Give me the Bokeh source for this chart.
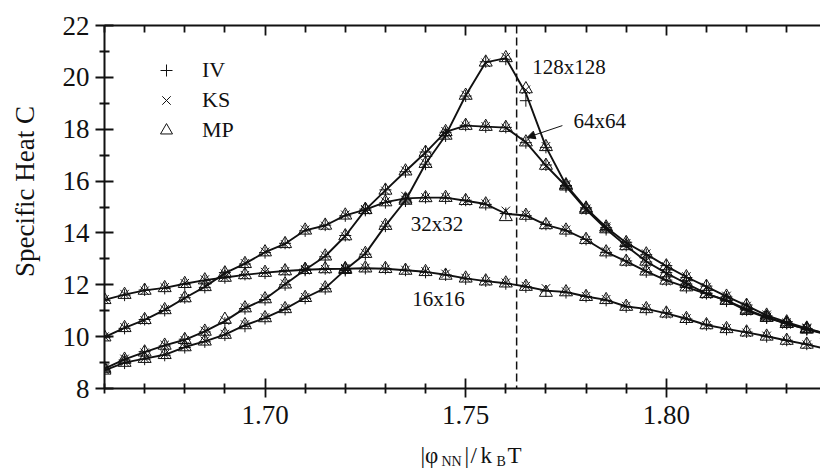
import numpy as np
from bokeh.plotting import figure
from bokeh.layouts import column, row
from bokeh.core.properties import value
from bokeh.models import (Range1d, FixedTicker, NumeralTickFormatter, LinearAxis, Span, Label,
                          Arrow, NormalHead, Legend, LegendItem)
from bokeh.embed import file_html
from bokeh.resources import INLINE

SERIF = "Liberation Serif"
INK = "#111111"

# |phi_NN| / k_B T
coupling = [1.660, 1.665, 1.670, 1.675, 1.680, 1.685, 1.690, 1.695, 1.700, 1.705,
            1.710, 1.715, 1.720, 1.725, 1.730, 1.735, 1.740, 1.745, 1.750, 1.755,
            1.760, 1.765, 1.770, 1.775, 1.780, 1.785, 1.790, 1.795, 1.800, 1.805,
            1.810, 1.815, 1.820, 1.825, 1.830, 1.835, 1.840]

t_critical = 1.7627

lattices = ["16x16", "32x32", "64x64", "128x128"]

# specific heat, 16x16 lattice
c16_iv = [11.40, 11.60, 11.80, 11.86, 12.02, 12.16, 12.27, 12.40, 12.45, 12.55, 12.56, 12.62, 12.60,
          12.63, 12.63, 12.56, 12.48, 12.38, 12.23, 12.15, 12.04, 11.92, 11.76, 11.70, 11.55, 11.40,
          11.15, 11.05, 10.92, 10.68, 10.46, 10.28, 10.18, 10.00, 9.86, 9.71, 9.53]
c16_ks = [11.44, 11.64, 11.77, 11.90, 12.06, 12.20, 12.29, 12.37, 12.49, 12.52, 12.60, 12.60, 12.64,
          12.65, 12.61, 12.57, 12.52, 12.42, 12.26, 12.13, 12.08, 11.95, 11.86, 11.74, 11.56, 11.44,
          11.18, 11.09, 10.88, 10.70, 10.44, 10.32, 10.15, 10.03, 9.84, 9.69, 9.51]
c16_mp = [11.42, 11.62, 11.78, 11.88, 12.04, 12.18, 12.28, 12.38, 12.47, 12.53, 12.58, 12.61, 12.62,
          12.64, 12.62, 12.55, 12.50, 12.36, 12.25, 12.14, 12.06, 11.93, 11.70, 11.72, 11.54, 11.42,
          11.16, 11.07, 10.90, 10.69, 10.45, 10.30, 10.17, 10.01, 9.85, 9.70, 9.52]

# specific heat, 32x32 lattice
c32_iv = [9.96, 10.32, 10.66, 11.01, 11.50, 11.90, 12.47, 12.80, 13.24, 13.60, 14.08, 14.30, 14.66,
          14.92, 15.17, 15.28, 15.36, 15.34, 15.26, 15.10, 14.75, 14.66, 14.33, 14.08, 13.75, 13.25,
          12.92, 12.50, 12.18, 11.90, 11.66, 11.37, 11.02, 10.72, 10.51, 10.29, 10.11]
c32_ks = [10.00, 10.36, 10.63, 11.05, 11.48, 11.94, 12.43, 12.83, 13.27, 13.56, 14.12, 14.27, 14.70,
          14.88, 15.21, 15.42, 15.37, 15.38, 15.22, 15.13, 14.85, 14.69, 14.29, 14.12, 13.72, 13.28,
          12.88, 12.54, 12.15, 11.93, 11.63, 11.41, 10.98, 10.75, 10.48, 10.31, 10.09]
c32_mp = [9.98, 10.34, 10.65, 11.03, 11.49, 11.92, 12.45, 12.81, 13.26, 13.58, 14.10, 14.29, 14.68,
          14.90, 15.19, 15.30, 15.35, 15.36, 15.24, 15.11, 14.62, 14.67, 14.31, 14.10, 13.74, 13.26,
          12.90, 12.52, 12.17, 11.91, 11.65, 11.39, 11.00, 10.73, 10.50, 10.30, 10.10]

# specific heat, 64x64 lattice
c64_iv = [8.75, 9.10, 9.42, 9.64, 9.90, 10.18, 10.52, 11.08, 11.43, 12.00, 12.60, 13.08, 13.90,
          14.87, 15.66, 16.36, 17.12, 17.88, 18.15, 18.09, 18.07, 17.48, 16.62, 15.78, 14.92, 14.13,
          13.52, 12.88, 12.47, 12.03, 11.68, 11.38, 11.07, 10.74, 10.52, 10.27, 10.09]
c64_ks = [8.79, 9.14, 9.38, 9.68, 9.86, 10.22, 10.62, 11.12, 11.47, 12.04, 12.56, 13.12, 13.86,
          14.91, 15.62, 16.40, 17.08, 17.92, 18.13, 18.11, 18.05, 17.52, 16.58, 15.82, 14.88, 14.17,
          13.48, 12.92, 12.43, 12.07, 11.64, 11.42, 11.03, 10.76, 10.48, 10.29, 10.07]
c64_mp = [8.77, 9.12, 9.40, 9.66, 9.88, 10.20, 10.66, 11.10, 11.45, 12.02, 12.58, 13.10, 13.88,
          14.89, 15.64, 16.38, 17.10, 17.90, 18.14, 18.10, 18.06, 17.50, 16.60, 15.80, 14.90, 14.15,
          13.50, 12.90, 12.45, 12.05, 11.66, 11.40, 11.05, 10.75, 10.50, 10.28, 10.08]

# specific heat, 128x128 lattice
c128_iv = [8.68, 8.98, 9.13, 9.28, 9.58, 9.80, 10.06, 10.40, 10.70, 11.05, 11.48, 11.85, 12.55,
           13.18, 14.26, 15.23, 16.65, 17.74, 19.28, 20.60, 20.70, 19.10, 17.30, 15.83, 14.97, 14.20,
           13.64, 13.16, 12.74, 12.28, 11.95, 11.53, 11.22, 10.80, 10.58, 10.30, 10.12]
c128_ks = [8.72, 9.02, 9.17, 9.32, 9.62, 9.84, 10.10, 10.47, 10.74, 11.09, 11.52, 11.89, 12.60,
           13.22, 14.30, 15.27, 16.69, 17.78, 19.32, 20.56, 20.78, 19.52, 17.34, 15.87, 14.93, 14.24,
           13.60, 13.20, 12.70, 12.32, 11.91, 11.57, 11.18, 10.84, 10.54, 10.34, 10.08]
c128_mp = [8.70, 9.00, 9.15, 9.30, 9.60, 9.82, 10.08, 10.45, 10.72, 11.07, 11.50, 11.87, 12.58,
           13.20, 14.28, 15.25, 16.67, 17.76, 19.30, 20.58, 20.75, 19.55, 17.32, 15.85, 14.95, 14.22,
           13.62, 13.18, 12.72, 12.30, 11.93, 11.55, 11.20, 10.82, 10.56, 10.32, 10.10]

x_major = [1.70, 1.75, 1.80]
x_minor = [1.66, 1.67, 1.68, 1.69, 1.71, 1.72, 1.73, 1.74, 1.76, 1.77, 1.78, 1.79,
           1.81, 1.82, 1.83, 1.84]
y_major = [8, 10, 12, 14, 16, 18, 20, 22]
y_minor = [9, 11, 13, 15, 17, 19, 21]

STRIP_W = 48      # left strip holding the rotated y title
PLOT_H = 436      # main figure height; x title strip fills the rest

p = figure(width=820 - STRIP_W, height=PLOT_H, output_backend="svg", toolbar_location=None,
           title_location=None,
           x_range=Range1d(1.66, 1.83842), y_range=Range1d(8, 22),
           min_border_left=104 - STRIP_W, min_border_right=0, min_border_top=25,
           min_border_bottom=PLOT_H - 388,
           background_fill_color="white", border_fill_color="white")
p.outline_line_color = None
p.xgrid.visible = False
p.ygrid.visible = False


def style_axis(ax, tin, tout, min_in, min_out):
    ax.axis_line_width = 2
    ax.axis_line_color = INK
    ax.major_tick_line_width = 1.8
    ax.minor_tick_line_width = 1.8
    ax.major_tick_line_color = INK
    ax.minor_tick_line_color = INK
    ax.major_tick_in = tin
    ax.major_tick_out = tout
    ax.minor_tick_in = min_in
    ax.minor_tick_out = min_out
    ax.major_label_text_font = SERIF
    ax.major_label_text_font_size = "27px"
    ax.major_label_text_color = INK


xax = p.xaxis[0]
xax.ticker = FixedTicker(ticks=x_major, minor_ticks=x_minor)
xax.formatter = NumeralTickFormatter(format="0.00")
style_axis(xax, 10, 9, 5, 5)
xax.major_label_standoff = 8

yax = p.yaxis[0]
yax.ticker = FixedTicker(ticks=y_major, minor_ticks=y_minor)
style_axis(yax, 9, 9, 5, 5)
yax.major_label_standoff = 6

top = LinearAxis(ticker=FixedTicker(ticks=x_major, minor_ticks=x_minor),
                 major_label_overrides={t: "" for t in x_major})
style_axis(top, 10, 0, 7, 0)
p.add_layout(top, "above")

# critical coupling
p.add_layout(Span(location=t_critical, dimension="height", line_color=INK,
                  line_dash="8 4", line_width=1.5))

x = np.array(coupling)
series = {
    "16x16": (c16_iv, c16_ks, c16_mp),
    "32x32": (c32_iv, c32_ks, c32_mp),
    "64x64": (c64_iv, c64_ks, c64_mp),
    "128x128": (c128_iv, c128_ks, c128_mp),
}

for name in lattices:
    iv, ks, mp = series[name]
    mean = (np.array(iv) + np.array(ks) + np.array(mp)) / 3.0
    p.line(x, mean, line_color=INK, line_width=1.9)

xs = np.concatenate([x] * len(lattices))
methods = [("IV", "cross", 12, 0), ("KS", "x", 12, 1), ("MP", "triangle", 13, 2)]
items = []
for label, marker, size, k in methods:
    ys = np.concatenate([np.array(series[n][k]) for n in lattices])
    r = p.scatter(xs, ys, marker=marker, size=size, fill_color=None,
                  line_color=INK, line_width=1.0)
    items.append(LegendItem(label=label, renderers=[r]))

legend = Legend(items=items, location=(47, 243), orientation="vertical",
                border_line_color=None, background_fill_alpha=0,
                padding=0, margin=0, spacing=0,
                glyph_width=30, glyph_height=30, label_height=30,
                label_standoff=21,
                label_text_font=SERIF, label_text_font_size="22px",
                label_text_color=INK)
p.add_layout(legend, "center")

# lattice size annotations (left edge, text top)
for txt, lx, ly in [("128x128", 1.7666, 20.85), ("64x64", 1.7769, 18.78),
                    ("32x32", 1.7363, 14.81), ("16x16", 1.7367, 11.91)]:
    p.add_layout(Label(x=lx, y=ly, text=txt, text_font=SERIF, text_font_size="21px",
                       text_color=INK, text_baseline="top"))

p.add_layout(Arrow(end=NormalHead(size=8, fill_color=INK, line_color=INK, line_width=1),
                   x_start=1.7741, y_start=18.14, x_end=1.7653, y_end=17.68,
                   line_color=INK, line_width=1))


def strip(width, height, border_left=0):
    f = figure(width=width, height=height, output_backend="svg", toolbar_location=None,
               title_location=None,
               x_range=Range1d(0, width - border_left), y_range=Range1d(0, height),
               x_axis_type=None, y_axis_type=None,
               min_border_left=border_left, min_border_right=0,
               min_border_top=0, min_border_bottom=0,
               background_fill_color="white", border_fill_color="white")
    f.outline_line_color = None
    f.grid.visible = False
    return f


# y title strip (pixel coordinates, origin bottom-left)
ytitle = strip(STRIP_W, PLOT_H)
ytitle.text(x=[24], y=[PLOT_H - 191], text=["Specific Heat C"], angle=np.pi / 2,
            text_font=value(SERIF), text_font_size=value("27px"), text_color=INK,
            text_align="center", text_baseline="middle")

# x title strip: |phi_NN| / k_B T with subscripts
xtitle = strip(820 - STRIP_W, 469 - PLOT_H, border_left=104 - STRIP_W)
xtitle.text(x=[316, 360, 366, 376, 403], y=[27, 27, 27, 27, 27],
            text=["|\u03c6", "|", "/", "k", "T"],
            text_font=value(SERIF), text_font_size=value("23px"), text_color=INK,
            text_baseline="top")
xtitle.text(x=[337, 392], y=[15.5, 15.5], text=["NN", "B"],
            text_font=value(SERIF), text_font_size=value("14px"), text_color=INK,
            text_baseline="top")

layout = row(ytitle, column(p, xtitle, spacing=0), spacing=0)
open("out.html", "w").write(file_html(layout, INLINE))
